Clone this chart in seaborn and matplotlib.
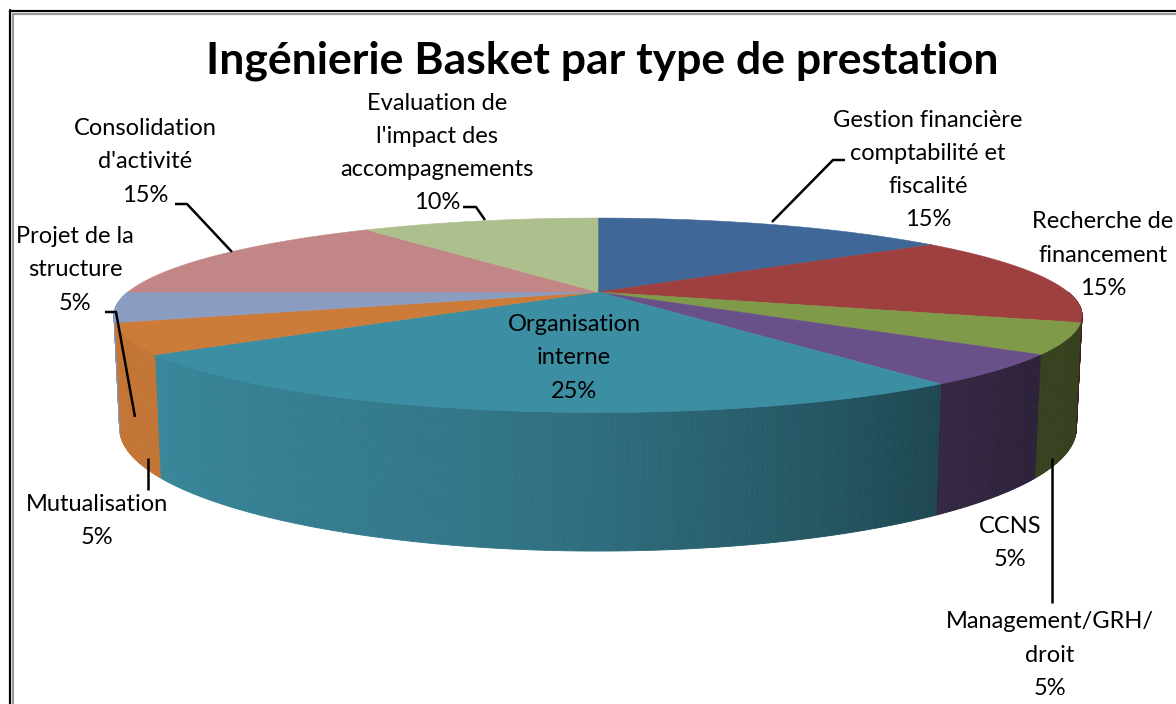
import numpy as np
import matplotlib
matplotlib.use("Agg")
import matplotlib.pyplot as plt
import matplotlib.colors as mcolors
import seaborn as sns

# ---------------- data ----------------
categories = [
    "Gestion financière\ncomptabilité et\nfiscalité",
    "Recherche de\nfinancement",
    "Management/GRH/\ndroit",
    "CCNS",
    "Organisation\ninterne",
    "Mutualisation",
    "Projet de la\nstructure",
    "Consolidation\nd'activité",
    "Evaluation de\nl'impact des\naccompagnements",
]
values = [15, 15, 5, 5, 25, 5, 5, 15, 10]
colors = ["#3f6899", "#9e403f", "#7f9a48", "#6a5088", "#3c8ea3",
          "#cc7b38", "#8a9dc0", "#c28686", "#adbf8c"]
title = "Ingénierie Basket par type de prestation"

# label block centres (layout)
label_pos = [(928, 170), (1103, 255), (1050, 655), (1010, 543), (574, 358),
             (97, 521), (75, 270), (145, 162), (437, 153)]

sns.set_theme(style="white")
plt.rcParams["font.family"] = ["Lato", "DejaVu Sans"]

fig = plt.figure(figsize=(11.76, 7.04), dpi=100)
ax = fig.add_axes([0, 0, 1, 1])
ax.set_xlim(0, 1176)
ax.set_ylim(704, 0)
ax.axis("off")

# ------------- 3D perspective projection -------------
D = 4.1
elev = np.arcsin(0.195)
S = 470 * D
CX, CY = 598, 292
DEPTH = 0.235
se, ce = np.sin(elev), np.cos(elev)


def proj(X, Y, Z):
    vx, vy, vz = X, Y - D * se, Z - D * ce
    depth = -vy * se - vz * ce
    up = vy * ce - vz * se
    return CX + S * vx / depth, CY - S * up / depth


def shade(t_deg):
    return np.interp(t_deg, [-180, -145, -105, -90, -54, -40, 0],
                     [0.97, 0.95, 0.85, 0.77, 0.50, 0.43, 0.42])


total = float(sum(values))
angles = [90.0]
for v in values:
    angles.append(angles[-1] - 360.0 * v / total)

# walls (front half only), drawn back to front
segments = []
for i, v in enumerate(values):
    a1, a2 = angles[i], angles[i + 1]
    lo, hi = max(a2, -180.0), min(a1, 0.0)
    if hi <= lo:
        continue
    n = max(2, int((hi - lo) / 0.5))
    ts = np.linspace(hi, lo, n + 1)
    for k in range(n):
        segments.append((i, ts[k], ts[k + 1]))

segments.sort(key=lambda s: -np.sin(np.deg2rad((s[1] + s[2]) / 2)))
for i, tA, tB in segments:
    tt = np.deg2rad(np.linspace(tA, tB, 4))
    X, Z = np.cos(tt), -np.sin(tt)
    xt, yt = proj(X, 0 * X, Z)
    xb, yb = proj(X, -DEPTH + 0 * X, Z)
    px = np.concatenate([xt, xb[::-1]])
    py = np.concatenate([yt, yb[::-1]])
    f = shade((tA + tB) / 2)
    base = np.array(mcolors.to_rgb(colors[i]))
    ax.fill(px, py, color=tuple(base * f), lw=0.6, ec=tuple(base * f),
            zorder=1)

# top surfaces
cx0, cy0 = proj(0.0, 0.0, 0.0)
for i, v in enumerate(values):
    a1, a2 = angles[i], angles[i + 1]
    tt = np.deg2rad(np.linspace(a1, a2, 200))
    X, Z = np.cos(tt), -np.sin(tt)
    xt, yt = proj(X, 0 * X, Z)
    px = np.concatenate([[cx0], xt])
    py = np.concatenate([[cy0], yt])
    ax.fill(px, py, color=colors[i], lw=0.4, ec=colors[i], zorder=2)

# labels
for (lx, ly), name, v in zip(label_pos, categories, values):
    ax.text(lx, ly, f"{name}\n{v}%", ha="center", va="center",
            fontsize=17, linespacing=1.72, color="black", zorder=5)

# leader lines
leaders = [
    [(772, 222), (833, 160), (845, 160)],
    [(175, 204), (187, 204), (232, 252)],
    [(463, 207), (476, 207), (485, 220)],
    [(105, 312), (116, 312), (135, 417)],
    [(148, 458), (148, 490)],
    [(1052, 458), (1052, 603)],
]
for pts in leaders:
    xs, ys = zip(*pts)
    ax.plot(xs, ys, color="black", lw=1.8, zorder=4, solid_capstyle="butt")

ax.text(602, 61, title, ha="center", va="center", fontsize=32,
        fontweight="bold", color="black", zorder=5)

# chart frame (double border)
ax.plot([9.5, 9.5], [10, 704], color="black", lw=1.6, zorder=6)
ax.plot([9.5, 1176], [10.5, 10.5], color="black", lw=1.6, zorder=6)
ax.plot([13, 13], [13.5, 704], color="#999999", lw=1.6, zorder=6)
ax.plot([13, 1176], [14, 14], color="#999999", lw=1.6, zorder=6)

fig.savefig("out.png", dpi=100, facecolor="white")
